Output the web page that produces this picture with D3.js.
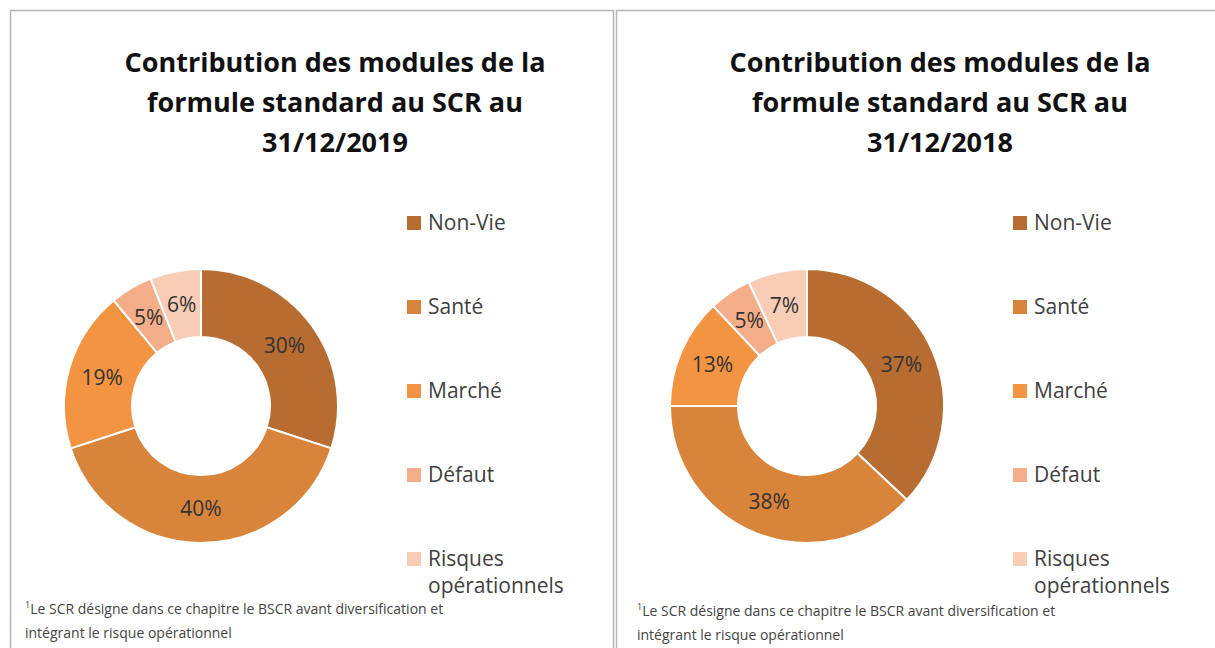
<!DOCTYPE html>
<html>
<head>
<meta charset="utf-8">
<script src="https://cdn.jsdelivr.net/npm/d3@7"></script>
<style>
  body { margin: 0; background: #fff; }
  svg { display: block; }
  text { font-family: "Open Sans", "Noto Sans", sans-serif; }
</style>
</head>
<body>
<div id="chart"></div>
<script>
// modules, in drawing order (clockwise from 12 o'clock)
var modules = ["Non-Vie", "Santé", "Marché", "Défaut", "Risques opérationnels"];
var moduleColors = ["#b76d31", "#d9843b", "#f29441", "#f4ad89", "#f9cdb5"];

var values2019 = [30, 40, 19, 5, 6];
var values2018 = [37, 38, 13, 5, 7];

var titles = [
  ["Contribution des modules de la", "formule standard au SCR au", "31/12/2019"],
  ["Contribution des modules de la", "formule standard au SCR au", "31/12/2018"]
];
var footnote = ["Le SCR désigne  dans ce chapitre  le BSCR avant  diversification  et",
                "intégrant  le risque opérationnel"];

var width = 1215, height = 648;

var svg = d3.select("#chart").append("svg")
    .attr("width", width)
    .attr("height", height);

var color = d3.scaleOrdinal().domain(modules).range(moduleColors);

var panels = [
  {values: values2019, title: titles[0], x0: 10, x1: 613, cx: 201, titleX: 335, legendX: 407, noteX: 25, noteY: 612},
  {values: values2018, title: titles[1], x0: 616, x1: 1230, cx: 807, titleX: 940, legendX: 1013, noteX: 637, noteY: 614}
];

var cy = 406, outerR = 137, innerR = 69;

var pie = d3.pie().sort(null).value(function(d){ return d; });
var arc = d3.arc().innerRadius(innerR).outerRadius(outerR);

panels.forEach(function(p){
  var g = svg.append("g");

  // frame
  g.append("rect")
    .attr("x", p.x0 + 0.5).attr("y", 10.5)
    .attr("width", p.x1 - p.x0).attr("height", height)
    .style("fill", "none")
    .style("stroke", "#b5b5b5")
    .style("stroke-width", 1.5);

  // title
  g.append("text")
    .attr("x", p.titleX)
    .attr("y", 63)
    .attr("text-anchor", "middle")
    .style("font-size", "27px")
    .style("font-weight", "bold")
    .style("fill", "#111")
    .selectAll("tspan")
    .data(p.title)
    .enter().append("tspan")
    .attr("x", p.titleX)
    .attr("dy", function(d, i){ return i == 0 ? "0.35em" : 40; })
    .text(function(d){ return d; });

  // donut
  var donut = g.append("g")
    .attr("transform", "translate(" + p.cx + "," + cy + ")");

  var arcs = pie(p.values);

  donut.selectAll("path")
    .data(arcs)
    .enter().append("path")
    .attr("d", arc)
    .style("fill", function(d, i){ return color(modules[i]); })
    .style("stroke", "#fff")
    .style("stroke-width", 2);

  donut.selectAll("text")
    .data(arcs)
    .enter().append("text")
    .attr("transform", function(d){ return "translate(" + arc.centroid(d) + ")"; })
    .attr("text-anchor", "middle")
    .attr("dy", "0.35em")
    .style("font-size", "21px")
    .style("fill", "#333")
    .text(function(d){ return d.data + "%"; });

  // legend
  var legendY = d3.scalePoint().domain(modules).range([223, 559]);

  var item = g.selectAll(".legend")
    .data(modules)
    .enter().append("g")
    .attr("class", "legend")
    .attr("transform", function(d){ return "translate(" + p.legendX + "," + legendY(d) + ")"; });

  item.append("rect")
    .attr("x", 0).attr("y", -7)
    .attr("width", 14).attr("height", 14)
    .style("fill", function(d){ return color(d); });

  item.append("text")
    .attr("x", 21)
    .style("font-size", "21px")
    .style("fill", "#404040")
    .each(function(d){
      var t = d3.select(this);
      var parts = d == "Risques opérationnels" ? ["Risques", "opérationnels"] : [d];
      parts.forEach(function(s, i){
        t.append("tspan").attr("x", 21).attr("dy", i == 0 ? "0.35em" : 27).text(s);
      });
    });

  // footnote
  var note = g.append("text")
    .attr("x", p.noteX)
    .attr("y", p.noteY)
    .style("font-size", "14px")
    .style("fill", "#444");
  note.append("tspan").attr("dy", "-0.45em").style("font-size", "9px").text("1");
  note.append("tspan").attr("dy", "0.45em").text(footnote[0]);
  note.append("tspan").attr("x", p.noteX).attr("dy", 24).text(footnote[1]);
});
</script>
</body>
</html>
